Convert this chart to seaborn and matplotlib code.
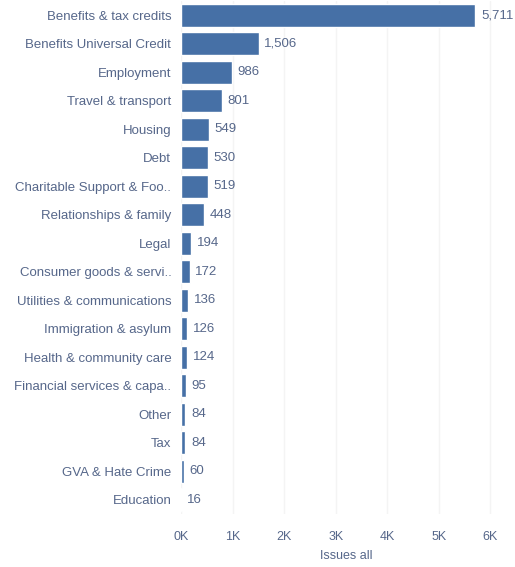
import matplotlib
matplotlib.use("Agg")
import matplotlib.pyplot as plt
import seaborn as sns
import pandas as pd

categories = [
    "Benefits & tax credits",
    "Benefits Universal Credit",
    "Employment",
    "Travel & transport",
    "Housing",
    "Debt",
    "Charitable Support & Foo..",
    "Relationships & family",
    "Legal",
    "Consumer goods & servi..",
    "Utilities & communications",
    "Immigration & asylum",
    "Health & community care",
    "Financial services & capa..",
    "Other",
    "Tax",
    "GVA & Hate Crime",
    "Education",
]
issues = [5711, 1506, 986, 801, 549, 530, 519, 448, 194, 172,
          136, 126, 124, 95, 84, 84, 60, 16]
x_ticks = [0, 1000, 2000, 3000, 4000, 5000, 6000]
x_tick_labels = ["0K", "1K", "2K", "3K", "4K", "5K", "6K"]

df = pd.DataFrame({"category": categories, "issues": issues})

sns.set_theme(style="white")
plt.rcParams["font.family"] = ["Liberation Sans", "DejaVu Sans"]

text_color = "#56678a"
bar_color = "#4670a6"

fig = plt.figure(figsize=(5.15, 5.67), dpi=100)
ax = fig.add_axes([181 / 515, 53 / 567, 330 / 515, 513 / 567])

sns.barplot(data=df, x="issues", y="category", color=bar_color,
            width=0.8, saturation=1, ax=ax, orient="h")

labels = [f"{v:,}" for v in issues]
ax.bar_label(ax.containers[0], labels=labels, padding=4,
             fontsize=9.5, color=text_color)

ax.set_xlim(0, 6400)
ax.set_xticks(x_ticks)
ax.set_xticklabels(x_tick_labels)
ax.set_xlabel("Issues all", fontsize=9, color=text_color, labelpad=5)
ax.set_ylabel("")
ax.tick_params(axis="x", length=0, pad=12, labelsize=9, labelcolor=text_color)
ax.tick_params(axis="y", length=0, pad=7, labelsize=9.5, labelcolor=text_color)
ax.grid(axis="x", color="#f4f4f4", linewidth=1)
ax.set_axisbelow(True)
for s in ax.spines.values():
    s.set_visible(False)

fig.savefig("out.png", dpi=100)
